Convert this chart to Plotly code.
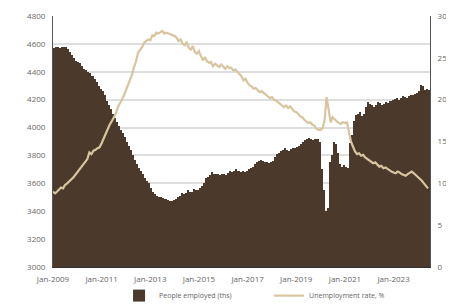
import pandas as pd
import plotly.graph_objects as go

# Monthly data Jan-2009 .. Jun-2024
employed = [
    # 2009
    4570, 4575, 4580, 4570, 4575, 4580, 4575, 4560, 4540, 4520, 4500, 4480,
    # 2010
    4470, 4460, 4440, 4420, 4410, 4400, 4390, 4370, 4350, 4330, 4300, 4280,
    # 2011
    4260, 4230, 4190, 4160, 4130, 4100, 4070, 4040, 4010, 3985, 3960, 3930,
    # 2012
    3900, 3870, 3840, 3800, 3770, 3740, 3710, 3690, 3665, 3640, 3620, 3600,
    # 2013
    3570, 3540, 3520, 3510, 3500, 3505, 3495, 3490, 3480, 3475, 3470, 3480,
    # 2014
    3490, 3500, 3510, 3530, 3520, 3530, 3550, 3540, 3540, 3560, 3555, 3550,
    # 2015
    3570, 3580, 3600, 3640, 3645, 3660, 3680, 3670, 3665, 3670, 3660, 3665,
    # 2016
    3670, 3660, 3675, 3690, 3680, 3685, 3700, 3690, 3680, 3690, 3680, 3690,
    # 2017
    3700, 3710, 3720, 3740, 3750, 3760, 3770, 3760, 3750, 3755, 3745, 3750,
    # 2018
    3760, 3790, 3810, 3820, 3830, 3840, 3850, 3840, 3835, 3845, 3850, 3855,
    # 2019
    3860, 3870, 3880, 3900, 3910, 3915, 3925, 3920, 3910, 3915, 3920, 3900,
    # 2020
    3700, 3550, 3400, 3420, 3750, 3800, 3900, 3880, 3820, 3740, 3720, 3730,
    # 2021
    3720, 3710, 3890, 3950, 4050, 4090, 4100, 4110, 4080, 4100, 4150, 4180,
    # 2022
    4170, 4160, 4150, 4165, 4180, 4175, 4160, 4170, 4180, 4175, 4190, 4200,
    # 2023
    4205, 4210, 4200, 4215, 4225, 4220, 4210, 4225, 4230, 4235, 4240, 4250,
    # 2024
    4260, 4305, 4300, 4270, 4275, 4270,
]

unemployment = [
    # 2009
    9.0, 8.8, 9.0, 9.3, 9.5, 9.4, 9.8, 10.0, 10.2, 10.4, 10.7, 11.0,
    # 2010
    11.3, 11.6, 12.0, 12.3, 12.6, 12.9, 13.7, 13.5, 13.9, 14.0, 14.2, 14.3,
    # 2011
    14.8, 15.4, 15.9, 16.4, 17.0, 17.4, 17.8, 18.3, 19.1, 19.5, 20.0, 20.5,
    # 2012
    21.1, 21.7, 22.3, 23.0, 23.9, 24.6, 25.6, 25.9, 26.3, 26.8, 27.0, 27.2,
    # 2013
    27.1, 27.7, 27.6, 28.0, 27.9, 28.1, 28.2, 27.9, 28.0, 27.9, 27.8, 27.7,
    # 2014
    27.6, 27.4, 27.0, 27.2, 26.7, 26.5, 26.9, 26.2, 26.0, 26.4, 25.7, 25.5,
    # 2015
    25.8, 25.2, 24.7, 25.1, 24.6, 24.4, 24.5, 24.0, 24.3, 24.1, 23.9, 24.2,
    # 2016
    23.9, 23.7, 24.0, 23.8, 23.8, 23.5, 23.6, 23.3, 23.0, 22.8, 22.3, 22.5,
    # 2017
    22.0, 21.7, 21.6, 21.3, 21.4, 21.1, 20.9, 21.0, 20.8, 20.6, 20.5, 20.2,
    # 2018
    20.3, 20.0, 19.9, 19.7, 19.5, 19.4, 19.1, 19.3, 19.0, 19.2, 18.9, 18.6,
    # 2019
    18.5, 18.3, 18.0, 17.9, 17.6, 17.4, 17.2, 17.3, 17.0, 16.9, 16.5, 16.4,
    # 2020
    16.4, 16.6, 17.5, 20.3, 18.5, 17.3, 17.9, 17.6, 17.4, 17.2, 17.1, 17.3,
    # 2021
    17.2, 17.3, 16.0, 15.0, 14.4, 13.8, 13.5, 13.6, 13.3, 13.4, 13.1, 12.9,
    # 2022
    12.8, 12.6, 12.4, 12.5, 12.2, 12.0, 12.1, 11.8, 11.9, 11.7, 11.5, 11.4,
    # 2023
    11.3, 11.2, 11.4, 11.3, 11.1, 11.0, 10.9, 11.1, 11.3, 11.4, 11.2, 11.0,
    # 2024
    10.8, 10.6, 10.3, 10.0, 9.7, 9.4,
]

months = pd.date_range("2009-01-01", periods=len(employed), freq="MS")

BAR_COLOR = "#4b3a2b"
LINE_COLOR = "#d8c49f"
TICK_FONT = dict(family="Open Sans, Noto Sans, sans-serif", size=8, color="#666666")

fig = go.Figure()
fig.add_trace(go.Bar(
    x=months, y=employed, name="People employed (ths)",
    marker=dict(color=BAR_COLOR, line=dict(width=0)),
    xperiod="M1", xperiodalignment="middle",
    width=31 * 86400000,
    yaxis="y",
))
fig.add_trace(go.Scatter(
    x=months, y=unemployment, name="Unemployment rate, %",
    mode="lines", line=dict(color=LINE_COLOR, width=2.2),
    yaxis="y2",
))

# page body has an 8px default margin, so the figure is sized to fit the 454x306 window
fig.update_layout(
    width=446, height=298,
    margin=dict(l=45, r=24, t=8, b=39, autoexpand=False),
    paper_bgcolor="white", plot_bgcolor="white",
    bargap=0,
    showlegend=True,
    legend=dict(orientation="h", xref="container", x=0.249, xanchor="left",
                yref="container", y=0.035, yanchor="middle",
                entrywidth=105, entrywidthmode="pixels",
                bgcolor="rgba(0,0,0,0)",
                font=dict(family="Open Sans, Noto Sans, sans-serif", size=7, color="#666666"),
                itemwidth=30, traceorder="normal"),
    xaxis=dict(type="date", range=["2009-01-01", "2024-07-01"],
               tickformat="%b-%Y", dtick="M24", tick0="2009-01-01",
               showgrid=False, showline=True, linecolor="#333333", linewidth=1,
               ticks="", tickfont=TICK_FONT, automargin=False, ticklabelstandoff=4),
    yaxis=dict(range=[3000, 4800], dtick=200, showgrid=True, gridcolor="#dedede", gridwidth=1.5,
               showline=True, linecolor="#555555", linewidth=1, ticks="",
               tickfont=TICK_FONT, zeroline=False, automargin=False, ticklabelstandoff=5),
    yaxis2=dict(range=[0, 30], dtick=5, overlaying="y", side="right", showgrid=False,
                showline=True, linecolor="#555555", linewidth=1, ticks="",
                tickfont=TICK_FONT, zeroline=False, automargin=False, ticklabelstandoff=5),
)

fig.write_html("out.html")
